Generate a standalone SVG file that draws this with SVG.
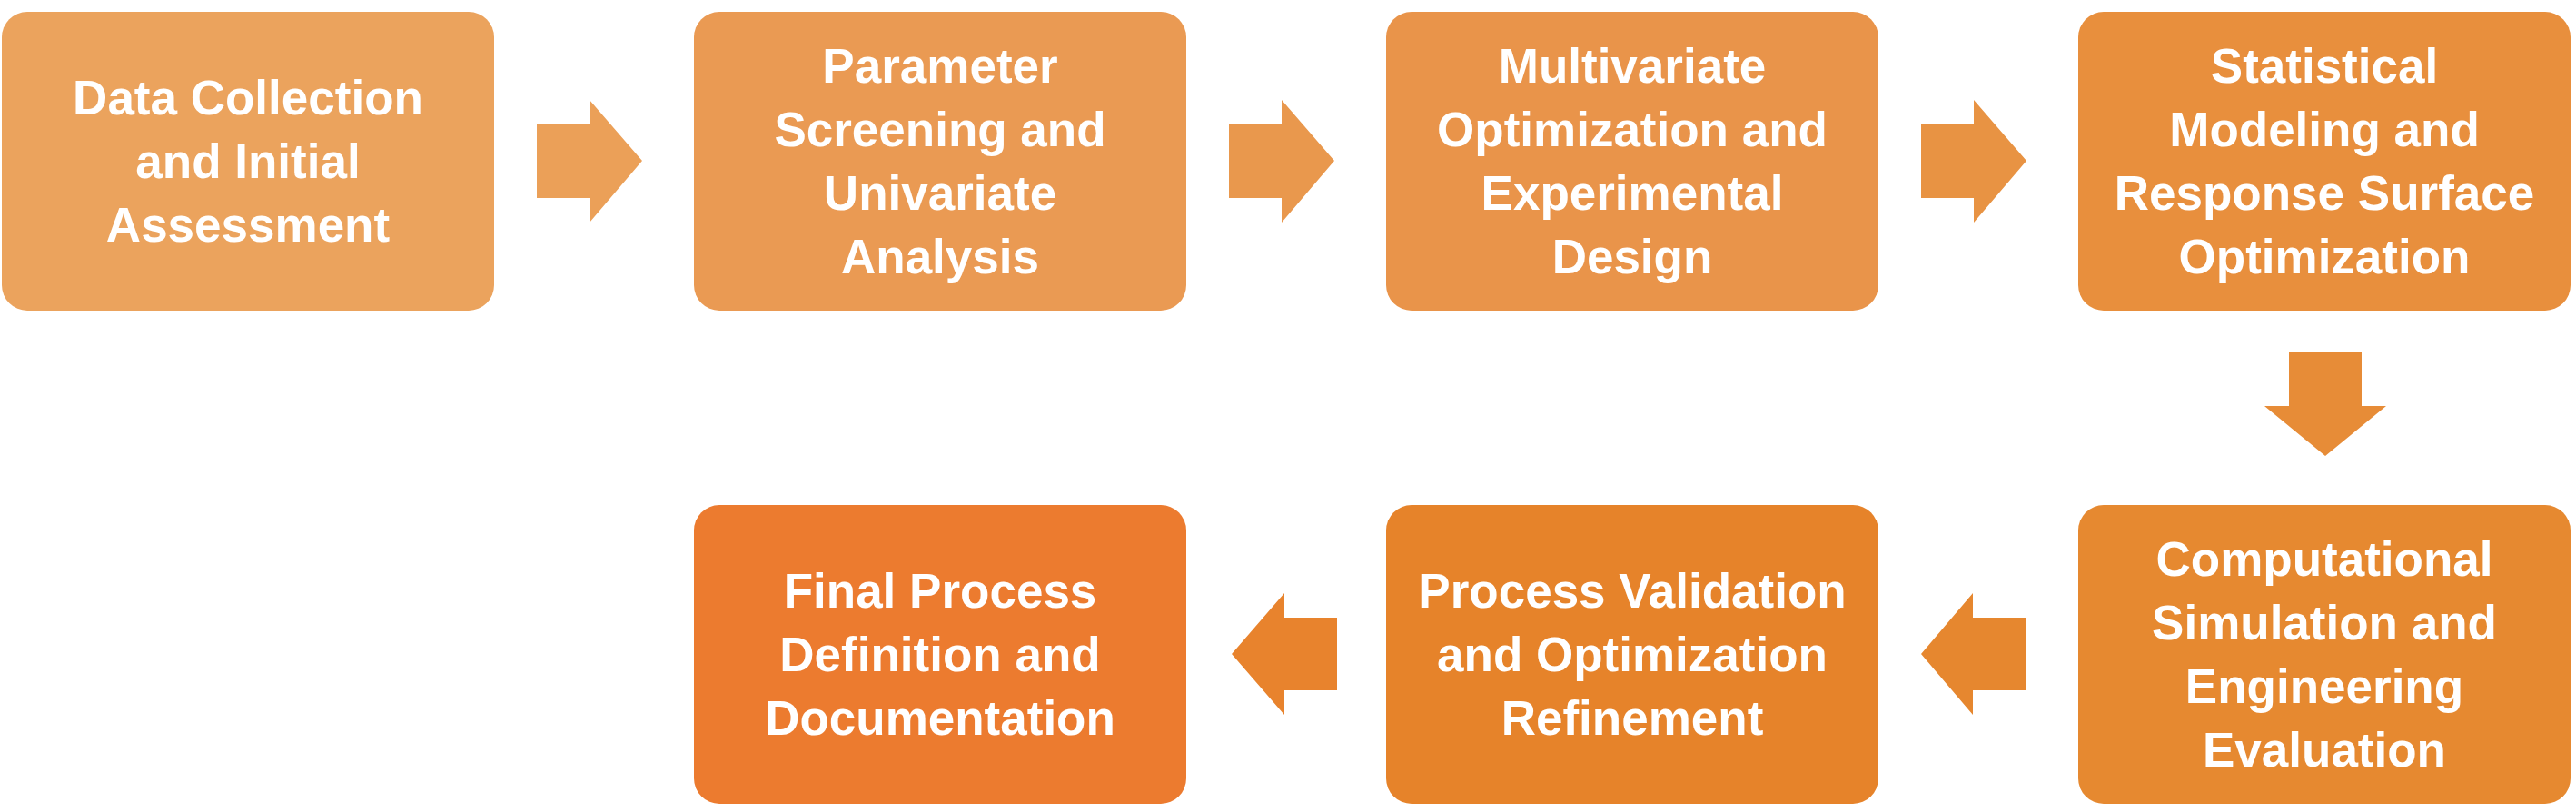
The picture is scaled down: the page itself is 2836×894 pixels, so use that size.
<svg xmlns="http://www.w3.org/2000/svg" width="2836" height="894" viewBox="0 0 2836 894">
<style>
text{font-family:"Liberation Sans",Arial,sans-serif;font-weight:bold;font-size:53px;fill:#fff;text-anchor:middle}
</style>
<rect width="2836" height="894" fill="#fff"/>
<g id="connectors">
<polygon points="591,137 649,137 649,110 707,177 649,245 649,218 591,218" fill="#EBA058"/>
<polygon points="1353,137 1411,137 1411,110 1469,177 1411,245 1411,218 1353,218" fill="#E9984D"/>
<polygon points="2115,137 2173,137 2173,110 2231,177 2173,245 2173,218 2115,218" fill="#E89343"/>
<polygon points="2520,387 2600,387 2600,447 2627,447 2560,502 2493,447 2520,447" fill="#E78C37"/>
<polygon points="2230,680 2172,680 2172,653 2115,720 2172,787 2172,760 2230,760" fill="#E6872F"/>
<polygon points="1472,680 1414,680 1414,653 1356,720 1414,787 1414,760 1472,760" fill="#E8832D"/>
</g>
<g id="n1"><rect x="2" y="13" width="542" height="329" rx="28" fill="#EBA35D"/>
<text x="273" y="126">Data Collection</text><text x="273" y="196">and Initial</text><text x="273" y="266">Assessment</text></g>
<g id="n2"><rect x="764" y="13" width="542" height="329" rx="28" fill="#EA9A53"/>
<text x="1035" y="91">Parameter</text><text x="1035" y="161">Screening and</text><text x="1035" y="231">Univariate</text><text x="1035" y="301">Analysis</text></g>
<g id="n3"><rect x="1526" y="13" width="542" height="329" rx="28" fill="#E9944A"/>
<text x="1797" y="91">Multivariate</text><text x="1797" y="161">Optimization and</text><text x="1797" y="231">Experimental</text><text x="1797" y="301">Design</text></g>
<g id="n4"><rect x="2288" y="13" width="542" height="329" rx="28" fill="#E88F3D"/>
<text x="2559" y="91">Statistical</text><text x="2559" y="161">Modeling and</text><text x="2559" y="231">Response Surface</text><text x="2559" y="301">Optimization</text></g>
<g id="n5"><rect x="2288" y="556" width="542" height="329" rx="28" fill="#E68930"/>
<text x="2559" y="634">Computational</text><text x="2559" y="704">Simulation and</text><text x="2559" y="774">Engineering</text><text x="2559" y="844">Evaluation</text></g>
<g id="n6"><rect x="1526" y="556" width="542" height="329" rx="28" fill="#E6832A"/>
<text x="1797" y="669">Process Validation</text><text x="1797" y="739">and Optimization</text><text x="1797" y="809">Refinement</text></g>
<g id="n7"><rect x="764" y="556" width="542" height="329" rx="28" fill="#EC7B2F"/>
<text x="1035" y="669">Final Process</text><text x="1035" y="739">Definition and</text><text x="1035" y="809">Documentation</text></g>
</svg>
